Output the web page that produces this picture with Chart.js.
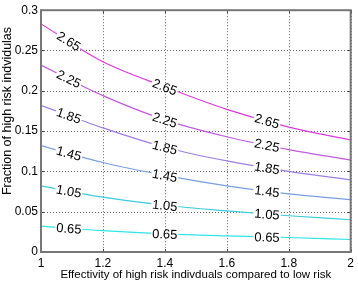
<!DOCTYPE html>
<html>
<head>
<meta charset="utf-8">
<script src="https://cdn.jsdelivr.net/npm/chart.js@4"></script>
<style>
  html, body { margin: 0; padding: 0; background: #fff; }
  #wrap { width: 358px; height: 282px; }
</style>
</head>
<body>
<div id="wrap"><canvas id="myChart"></canvas></div>
<script>
// effectivity values (x axis)
const effectivity = [1, 1.2, 1.4, 1.6, 1.8, 2];

const levels = ['0.65', '1.05', '1.45', '1.85', '2.25', '2.65'];
const level065 = [0.032, 0.0265, 0.0225, 0.020, 0.018, 0.0155];
const level105 = [0.082, 0.068, 0.058, 0.051, 0.045, 0.040];
const level145 = [0.132, 0.111, 0.095, 0.082, 0.072, 0.065];
const level185 = [0.182, 0.154, 0.130, 0.113, 0.100, 0.0895];
const level225 = [0.232, 0.194, 0.164, 0.143, 0.127, 0.114];
const level265 = [0.283, 0.236, 0.205, 0.177, 0.155, 0.139];

const xTicks = [1, 1.2, 1.4, 1.6, 1.8, 2];
const yTicks = [0, 0.05, 0.1, 0.15, 0.2, 0.25, 0.3];

// where along x the inline labels sit
const labelX = [1.09, 1.40, 1.73];

const lineColors = ['#2ee6e6', '#3ccbe0', '#7b9fe2', '#9f7ee2', '#c45ae0', '#dc3cdc'];

const FONT = '"Liberation Sans", Arial, sans-serif';

document.addEventListener("DOMContentLoaded", function () {
    const ctx = document.getElementById('myChart').getContext('2d');
    const series = [level065, level105, level145, level185, level225, level265];

    const datasets = series.map((vals, i) => ({
        label: levels[i],
        data: vals.map((v, j) => ({ x: effectivity[j], y: v })),
        borderColor: lineColors[i],
        borderWidth: 1.2,
        pointRadius: 0,
        fill: false,
        cubicInterpolationMode: 'monotone'
    }));

    function valueAt(vals, x) {
        for (let j = 0; j < effectivity.length - 1; j++) {
            if (x >= effectivity[j] && x <= effectivity[j + 1]) {
                const t = (x - effectivity[j]) / (effectivity[j + 1] - effectivity[j]);
                return vals[j] + t * (vals[j + 1] - vals[j]);
            }
        }
        return vals[vals.length - 1];
    }

    // dotted grid, matlab style
    const dottedGrid = {
        id: 'dottedGrid',
        beforeDatasetsDraw(chart) {
            const a = chart.chartArea;
            const c = chart.ctx;
            const xs = chart.scales.x;
            const ys = chart.scales.y;
            c.save();
            c.strokeStyle = '#666';
            c.lineWidth = 1;
            c.setLineDash([1, 2]);
            c.beginPath();
            xTicks.forEach(v => {
                const p = Math.round(xs.getPixelForValue(v)) + 0.5;
                c.moveTo(p, a.top); c.lineTo(p, a.bottom);
            });
            yTicks.forEach(v => {
                const p = Math.round(ys.getPixelForValue(v)) + 0.5;
                c.moveTo(a.left, p); c.lineTo(a.right, p);
            });
            c.stroke();
            c.setLineDash([]);
            c.restore();
        }
    };

    // inline contour labels, like clabel
    const contourLabels = {
        id: 'contourLabels',
        afterDatasetsDraw(chart) {
            const c = chart.ctx;
            const xs = chart.scales.x;
            const ys = chart.scales.y;
            c.save();
            c.font = '13px ' + FONT;
            c.textAlign = 'center';
            c.textBaseline = 'middle';
            series.forEach((vals, i) => {
                labelX.forEach(lx => {
                    const px = xs.getPixelForValue(lx);
                    const py = ys.getPixelForValue(valueAt(vals, lx));
                    const dx = xs.getPixelForValue(lx + 0.02) - xs.getPixelForValue(lx - 0.02);
                    const dy = ys.getPixelForValue(valueAt(vals, lx + 0.02)) - ys.getPixelForValue(valueAt(vals, lx - 0.02));
                    const ang = Math.atan2(dy, dx);
                    const w = c.measureText(levels[i]).width;
                    c.save();
                    c.translate(px, py);
                    c.rotate(ang);
                    c.fillStyle = '#fff';
                    c.fillRect(-w / 2 - 1, -3, w + 2, 6);
                    c.fillStyle = '#000';
                    c.fillText(levels[i], 0, 1);
                    c.restore();
                });
            });
            c.restore();
        }
    };

    // axes box with inward ticks, and the y label
    const frame = {
        id: 'frame',
        afterDraw(chart) {
            const a = chart.chartArea;
            const c = chart.ctx;
            const xs = chart.scales.x;
            const ys = chart.scales.y;
            c.save();
            c.setLineDash([]);
            c.strokeStyle = '#444';
            c.lineWidth = 1;
            c.beginPath();
            xTicks.forEach(v => {
                const p = Math.round(xs.getPixelForValue(v)) + 0.5;
                c.moveTo(p, a.bottom); c.lineTo(p, a.bottom - 3);
                c.moveTo(p, a.top); c.lineTo(p, a.top + 3);
            });
            yTicks.forEach(v => {
                const p = Math.round(ys.getPixelForValue(v)) + 0.5;
                c.moveTo(a.left, p); c.lineTo(a.left + 3, p);
                c.moveTo(a.right, p); c.lineTo(a.right - 3, p);
            });
            c.stroke();
            c.strokeStyle = '#777';
            c.lineWidth = 2;
            c.strokeRect(a.left, a.top, a.right - a.left, a.bottom - a.top);

            c.translate(8, 111);
            c.rotate(-Math.PI / 2);
            c.fillStyle = '#000';
            c.font = '12.5px ' + FONT;
            c.textAlign = 'center';
            c.textBaseline = 'middle';
            c.fillText('Fraction of high risk indvidulas', 0, 0);
            c.restore();
        }
    };

    new Chart(ctx, {
        type: 'line',
        data: { datasets: datasets },
        options: {
            responsive: true,
            maintainAspectRatio: false,
            animation: false,
            layout: { padding: { top: 5, right: 4, left: 0, bottom: 0 } },
            plugins: {
                legend: { display: false },
                tooltip: { enabled: false }
            },
            scales: {
                x: {
                    type: 'linear',
                    min: 1,
                    max: 2,
                    afterBuildTicks: axis => { axis.ticks = xTicks.map(v => ({ value: v })); },
                    afterFit: axis => { axis.height = 30; },
                    grid: { color: 'rgba(0,0,0,0)', drawTicks: false },
                    border: { display: false },
                    ticks: {
                        color: '#000',
                        padding: 4,
                        maxRotation: 0,
                        font: { family: FONT, size: 12 },
                        callback: v => String(v)
                    },
                    title: {
                        display: true,
                        text: 'Effectivity of high risk indivduals compared to low risk',
                        color: '#000',
                        padding: 0,
                        font: { family: FONT, size: 11.5 }
                    }
                },
                y: {
                    min: 0,
                    max: 0.3,
                    afterBuildTicks: axis => { axis.ticks = yTicks.map(v => ({ value: v })); },
                    afterFit: axis => { axis.width = 41; },
                    grid: { color: 'rgba(0,0,0,0)', drawTicks: false },
                    border: { display: false },
                    ticks: {
                        color: '#000',
                        padding: 3,
                        font: { family: FONT, size: 12 },
                        callback: v => String(v)
                    }
                }
            }
        },
        plugins: [dottedGrid, contourLabels, frame]
    });
});
</script>
</body>
</html>
